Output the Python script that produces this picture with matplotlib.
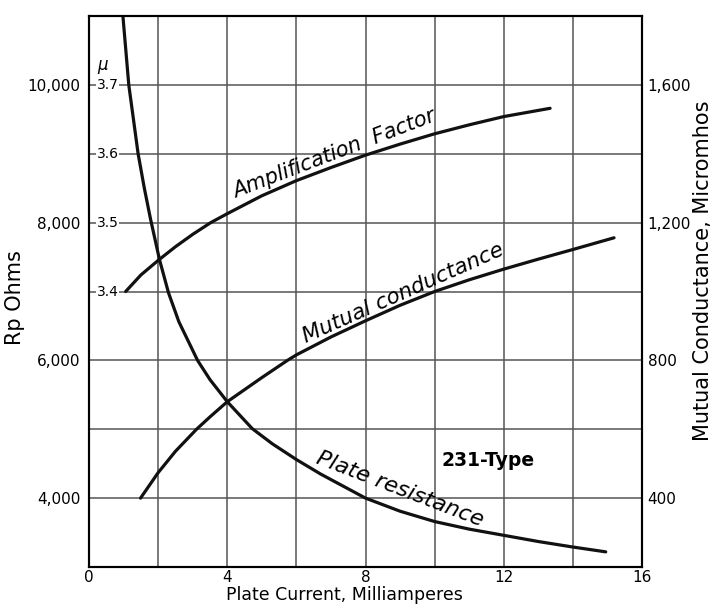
import numpy as np
import matplotlib.pyplot as plt
from matplotlib import transforms

# Data (231-Type tube)
# Plate resistance, ohms (left axis)
rp_ma = [0.98, 1.15, 1.42, 1.6, 1.78, 2.04, 2.3, 2.6, 3.14, 3.5, 4.0, 4.72, 5.3, 6.0, 6.7,
         8.0, 9.0, 10.0, 11.0, 12.0, 13.0, 14.0, 14.95]
rp_ohms = [11000, 10000, 9000, 8500, 8050, 7460, 6980, 6560, 6000, 5720, 5400, 5010, 4790, 4560, 4350,
           4000, 3810, 3660, 3550, 3460, 3370, 3290, 3220]

# Amplification factor, mu
mu_ma = [1.06, 1.5, 2.02, 2.5, 3.0, 3.52, 4.0, 5.0, 6.0, 7.0, 8.0, 9.0, 10.0, 11.0, 12.0, 13.34]
mu_val = [3.400, 3.424, 3.446, 3.465, 3.483, 3.500, 3.513, 3.539, 3.561, 3.580, 3.598, 3.614,
          3.629, 3.642, 3.654, 3.666]

# Mutual conductance, micromhos (right axis)
gm_ma = [1.49, 2.0, 2.5, 3.11, 3.5, 4.0, 5.0, 5.74, 6.0, 7.0, 8.0, 9.0, 10.0, 11.0, 12.0, 13.0, 14.0, 15.19]
gm_val = [400, 474, 536, 600, 636, 680, 750, 800, 816, 868, 915, 960, 1000, 1034, 1065, 1094, 1122, 1156]

x_ticks = [0, 4, 8, 12, 16]
rp_ticks = [4000, 6000, 8000, 10000]
rp_labels = ['4,000', '6,000', '8,000', '10,000']
gm_ticks = [400, 800, 1200, 1600]
gm_labels = ['400', '800', '1,200', '1,600']
mu_ticks = [3.4, 3.5, 3.6, 3.7]
mu_labels = ['3.4', '3.5', '3.6', '3.7']

fig = plt.figure(figsize=(7.14, 6.11), dpi=100)
ax = fig.add_axes([0.1247, 0.072, 0.7745, 0.9018])
ax.set_xlim(0, 16)
ax.set_ylim(3000, 11000)

# grid every 2 mA and every 1000 ohms
ax.set_xticks(np.arange(0, 17, 2), minor=True)
ax.set_yticks(np.arange(3000, 11001, 1000), minor=True)
ax.set_xticks(x_ticks)
ax.set_yticks(rp_ticks)
ax.set_yticklabels(rp_labels)
ax.grid(which='both', color='#555555', linewidth=1.1)
ax.set_axisbelow(True)
ax.tick_params(which='both', length=0, labelsize=11)
ax.tick_params(axis='x', pad=2)
ax.tick_params(axis='y', pad=6)
for s in ax.spines.values():
    s.set_linewidth(1.5)

lw = 2.3
ax.plot(rp_ma, rp_ohms, color='#111111', lw=lw, solid_capstyle='round', solid_joinstyle='round')

# right axis: mutual conductance
ax2 = ax.twinx()
ax2.set_ylim(200, 1800)
ax2.set_yticks(gm_ticks)
ax2.set_yticklabels(gm_labels)
ax2.tick_params(length=0, labelsize=11, pad=4)
for s in ax2.spines.values():
    s.set_linewidth(1.5)
ax2.plot(gm_ma, gm_val, color='#111111', lw=lw, solid_capstyle='round', solid_joinstyle='round')

# mu scale shares the left side
ax3 = ax.twinx()
ax3.set_ylim(3.0, 3.8)
ax3.axis('off')
ax3.plot(mu_ma, mu_val, color='#111111', lw=lw, solid_capstyle='round', solid_joinstyle='round')
trans = transforms.blended_transform_factory(ax3.transAxes, ax3.transData)
for v, lab in zip(mu_ticks, mu_labels):
    ax3.text(0.014, v, lab, transform=trans, ha='left', va='center', fontsize=10,
             bbox=dict(facecolor='white', edgecolor='none', pad=0.5))
ax3.text(0.014, 3.726, r'$\mu$', transform=trans, ha='left', va='center', fontsize=12)

# axis titles
fig.text(344 / 714, 1 - 600 / 611, 'Plate Current, Milliamperes', fontsize=12.5,
         ha='center', va='baseline')
fig.text(15 / 714, 1 - 298 / 611, 'Rp Ohms', fontsize=15, rotation=90,
         ha='center', va='center')
fig.text(703 / 714, 1 - 271 / 611, 'Mutual Conductance, Micromhos', fontsize=15,
         rotation=90, ha='center', va='center')

# curve labels
ax.text(7.1, 8990, 'Amplification  Factor', rotation=21, fontsize=15, style='italic',
        ha='center', va='center')
ax.text(9.1, 6980, 'Mutual conductance', rotation=24, fontsize=15.5, style='italic',
        ha='center', va='center')
ax.text(9.0, 4130, 'Plate resistance', rotation=-21, fontsize=16, style='italic',
        ha='center', va='center')
ax.text(11.55, 4540, '231-Type', fontsize=13.5, fontweight='bold', ha='center', va='center')

fig.savefig('out.png', dpi=100, facecolor='white')
